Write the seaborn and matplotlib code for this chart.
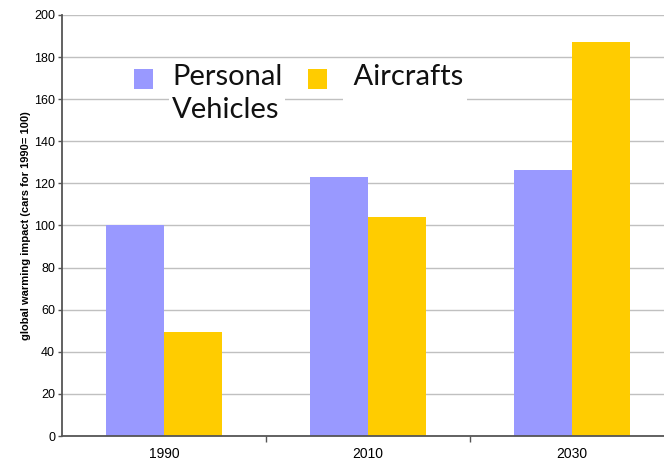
import pandas as pd
import seaborn as sns
import matplotlib.pyplot as plt
from matplotlib.ticker import FixedLocator

years = ["1990", "2010", "2030"]
personal_vehicles = [100, 123, 126.3]
aircrafts = [49.5, 104, 187.3]
series_labels = ["Personal\nVehicles", " Aircrafts\n"]
colors = ["#9999FF", "#FFCC00"]

df = pd.DataFrame({
    "Year": years * 2,
    "Impact": personal_vehicles + aircrafts,
    "Mode": [series_labels[0]] * 3 + [series_labels[1]] * 3,
})

sns.set_theme(style="white")
plt.rcParams["font.family"] = ["Liberation Sans", "DejaVu Sans"]

fig = plt.figure(figsize=(6.64, 4.61), dpi=100)
ax = fig.add_axes([62 / 664, 1 - 436 / 461, 612 / 664, 421 / 461])

sns.barplot(
    data=df,
    x="Year",
    y="Impact",
    hue="Mode",
    palette=colors,
    width=0.57,
    gap=0,
    saturation=1,
    linewidth=0,
    ax=ax,
    zorder=2,
)

ax.set_xlim(-0.5, 2.5)
ax.set_ylim(0, 200)
ax.set_yticks(range(0, 201, 20))
ax.yaxis.grid(True, color="#C0C0C0", linewidth=1)
ax.set_axisbelow(True)

for side in ["top", "right"]:
    ax.spines[side].set_visible(False)
for side in ["left", "bottom"]:
    ax.spines[side].set_color("#555555")
    ax.spines[side].set_linewidth(1.3)

ax.tick_params(axis="y", left=True, length=3, width=1, color="#555555",
               labelsize=9, pad=2, labelcolor="black")
ax.tick_params(axis="x", which="major", length=0, labelsize=10, pad=8,
               labelcolor="black")
ax.xaxis.set_minor_locator(FixedLocator([0.5, 1.5]))
ax.tick_params(axis="x", which="minor", bottom=True, length=4, width=1,
               color="#555555")

ax.set_xlabel("")
ax.set_ylabel("global warming impact (cars for 1990= 100)", fontsize=8,
              fontweight="bold", labelpad=2, color="black")

fs = 21
handles, labels = ax.get_legend_handles_labels()
ax.get_legend().remove()
leg = ax.legend(
    handles, labels, ncol=2, frameon=False,
    loc="upper left", bbox_to_anchor=(134 / 664, 1 - 64 / 461),
    bbox_transform=fig.transFigure,
    prop={"family": ["Lato", "DejaVu Sans"], "size": fs},
    labelcolor="#111111",
    handlelength=0.65, handleheight=0.65, handletextpad=0.65,
    columnspacing=0.9, borderpad=0, borderaxespad=0,
)
for h in leg.legend_handles:
    h.set_y(h.get_y() + 0.5 * fs)
for t in leg.get_texts():
    t.set_linespacing(1.32)
    t.set_bbox(dict(facecolor="white", edgecolor="none", pad=2))

fig.savefig("out.png", dpi=100)
